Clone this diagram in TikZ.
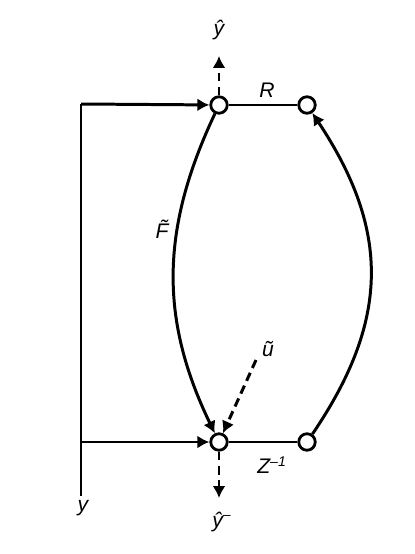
\documentclass[tikz,border=0pt]{standalone}
\usepackage{fontspec}
\setmainfont{Liberation Sans}
\usepackage{tikz}
\usetikzlibrary{arrows}
\usetikzlibrary{arrows.meta}

\begin{document}
\begin{tikzpicture}[x=0.02cm,y=-0.02cm]
\tikzset{>={Latex[width=2.6mm,length=2.4mm]}}
\tikzstyle{vertex} =[circle, draw, fill = white, line width=1.6pt, inner sep=0pt, minimum size=3.3mm]
\tikzstyle{lbl} =[font=\itshape\fontsize{12}{14}\selectfont, inner sep=1pt]
\tikzstyle{edge} =[line width=1.7pt]
\tikzstyle{dedge} =[line width=1.7pt, dash pattern=on 5pt off 3pt]

\useasboundingbox (0,0) rectangle (415,554);

\node[vertex](v1) at (219,105){};
\node[vertex](v2) at (307,105){};
\node[vertex](v3) at (219,442){};
\node[vertex](v4) at (307,442){};

\coordinate (ytop) at (81,104);
\coordinate (ybot) at (81,496);
\coordinate (yup) at (219,56);
\coordinate (ydown) at (219,498);
\coordinate (u) at (256,360);

% feed-through of y
\draw [edge] (ytop) -- (ybot);
\draw [->,edge] (ytop) -- (v1);
\draw [->,edge] (81,442) -- (v3);

% R and Z^{-1}
\draw [edge] (v1) -- (v2);
\draw [edge] (v3) -- (v4);

% curved branches
\draw [->,edge] (v1) .. controls (160,230) and (160,320) .. (v3);
\draw [->,edge] (v4) .. controls (390,320) and (390,230) .. (v2);

% dashed in/outputs
\draw [->,dedge] (v1) -- (yup);
\draw [->,dedge] (v3) -- (ydown);
\draw [->,dedge] (u) -- (v3);

\node[lbl](lyhat) at (219,30){\^{y}};
\node[lbl](lR) at (267,90){R};
\node[lbl](lF) at (162,229){\~{F}};
\node[lbl](lu) at (268,349){\~{u}};
\node[lbl](lZ) at (272,465){Z\textsuperscript{--1}};
\node[lbl](ly) at (83,508){y};
\node[lbl](lyminus) at (222,522){\^{y}\textsuperscript{--}};
\end{tikzpicture}
\end{document}
